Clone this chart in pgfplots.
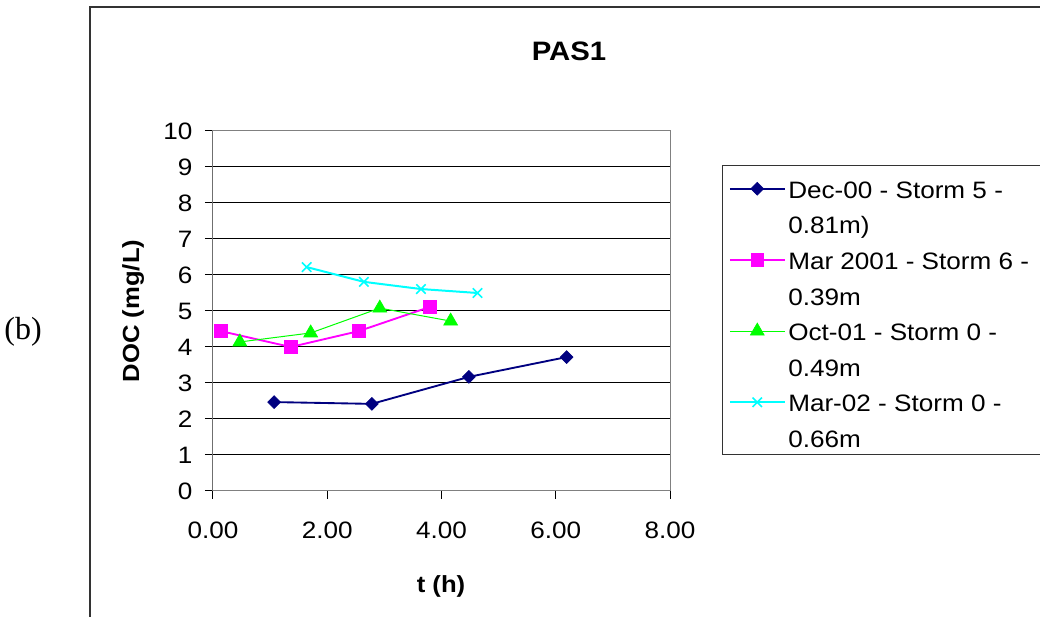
\documentclass[border=0pt]{standalone}
\usepackage{fontspec}
\setmainfont{Liberation Sans}[FakeStretch=1.1]
\newfontfamily\serifb{Liberation Serif}
\usepackage{pgfplots}
\pgfplotsset{compat=1.18}
\definecolor{cNavy}{RGB}{0,0,128}
\definecolor{cMag}{RGB}{255,0,255}
\definecolor{cGreen}{RGB}{0,255,0}
\definecolor{cCyan}{RGB}{0,255,255}
\begin{document}
\begin{tikzpicture}[x=0.75pt,y=0.75pt]
\useasboundingbox (0,0) rectangle (1040,617);
\draw[line width=1.1pt,black!80] (90,-5) -- (90,610) -- (1045,610);
\node[font=\serifb\fontsize{24}{26}\selectfont] at (23,285) {(b)};
\coordinate (R) at (1046,0);
\begin{axis}[
  at={(159.75pt,94.5pt)}, anchor=south west,
  width=342.75pt, height=270pt, scale only axis,
  xmin=0, xmax=8, ymin=0, ymax=10,
  xtick={0,2,4,6,8}, ytick={0,1,...,10},
  xtick pos=bottom, ytick pos=left,
  tick align=outside, major tick length=6pt,
  tick style={black, line width=0.75pt},
  axis line style={draw=gray, line width=0.75pt},
  ymajorgrids, grid style={black, line width=0.75pt},
  /pgf/number format/assume math mode=true,
  ticklabel style={font=\fontsize{17.8}{20}\selectfont},
  xticklabel style={/pgf/number format/fixed, /pgf/number format/fixed zerofill, /pgf/number format/precision=2, yshift=-14pt},
  yticklabel style={xshift=-6pt},
  title={\textbf{PAS1}},
  title style={at={(rel axis cs:0.779,1.20)}, anchor=center, font=\fontsize{20}{22}\selectfont},
  xlabel={\textbf{t (h)}},
  xlabel style={at={(rel axis cs:0.499,-0.264)}, anchor=center, font=\fontsize{17.5}{20}\selectfont},
  ylabel={\textbf{DOC (mg/L)}},
  ylabel style={at={(rel axis cs:-0.175,0.5)}, anchor=center, font=\fontsize{17.5}{20}\selectfont},
  legend style={name=leg, at={(rel axis cs:1.1138,0.8803)}, anchor=north west, draw=none, fill=none,
    font=\fontsize{17.8}{20}\selectfont, row sep=5.2pt,
    cells={text height=16pt, text depth=4pt, inner ysep=0pt},
    inner xsep=5pt, inner ysep=0pt},
  legend cell align=left,
  legend image code/.code={\draw[mark repeat=2,mark phase=2] plot coordinates {(0pt,0pt) (20.5pt,0pt) (41pt,0pt)};},
]
\addplot[cNavy, line width=1.4pt, mark=diamond*, mark size=4.8pt, mark options={solid, fill=cNavy, xscale=1.33, line width=0.5pt}]
  coordinates {(1.07,2.47) (2.78,2.42) (4.48,3.17) (6.19,3.72)};
\addlegendentry{Dec-00 - Storm 5 -}
\addlegendimage{empty legend}
\addlegendentry{0.81m)}
\addplot[cMag, line width=1.4pt, mark=square*, mark size=4.8pt, mark options={solid, fill=cMag, line width=0.5pt}]
  coordinates {(0.14,4.44) (1.36,4.00) (2.55,4.44) (3.79,5.11)};
\addlegendentry{Mar 2001 - Storm 6 -}
\addlegendimage{empty legend}
\addlegendentry{0.39m}
\addplot[cGreen, line width=0.75pt, mark=triangle*, mark size=6pt, mark options={solid, fill=cGreen, line width=0.5pt}]
  coordinates {(0.47,4.14) (1.71,4.39) (2.92,5.08) (4.16,4.72)};
\addlegendentry{Oct-01 - Storm 0 -}
\addlegendimage{empty legend}
\addlegendentry{0.49m}
\addplot[cCyan, line width=1.5pt, mark=x, mark size=5pt, mark options={solid, line width=1.2pt}]
  coordinates {(1.64,6.22) (2.64,5.81) (3.64,5.61) (4.63,5.50)};
\addlegendentry{Mar-02 - Storm 0 -}
\addlegendimage{empty legend}
\addlegendentry{0.66m}
\draw[black, line width=0.75pt] (rel axis cs:0,0) -- (rel axis cs:0,1);
\end{axis}
\path ([yshift=6.1pt]leg.north west) coordinate (LA);
\path ([yshift=-1.35pt]leg.south west) coordinate (LB);
\draw[line width=0.75pt, black!80] (LA) rectangle (LB -| R);
\end{tikzpicture}
\end{document}
